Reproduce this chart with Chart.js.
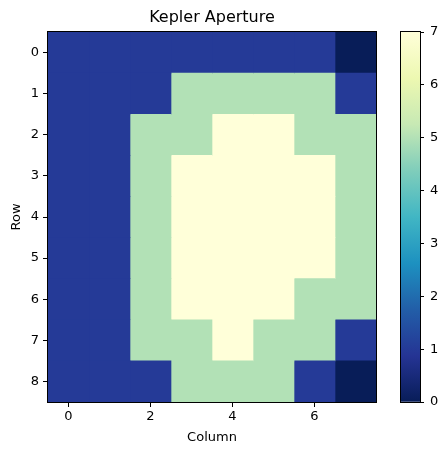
<!DOCTYPE html>
<html>
<head>
<meta charset="utf-8">
<script src="https://cdn.jsdelivr.net/npm/chart.js@4.4.1/dist/chart.umd.min.js"></script>
<style>
  html, body { margin: 0; padding: 0; background: #fff; }
  .wrap { position: relative; width: 448px; height: 455px; overflow: hidden; }
  #heat { position: absolute; left: 0; top: 0; }
  #cbar { position: absolute; left: 390px; top: 0; }
</style>
</head>
<body>
<div class="wrap">
  <canvas id="heat" width="424" height="455"></canvas>
  <canvas id="cbar" width="58" height="455"></canvas>
</div>
<script>
// pixel values of the aperture, one row per list
const rowLabels = ['0', '1', '2', '3', '4', '5', '6', '7', '8'];
const columns = [0, 1, 2, 3, 4, 5, 6, 7];
const apertureRows = [
  [1, 1, 1, 1, 1, 1, 1, 0],
  [1, 1, 1, 5, 5, 5, 5, 1],
  [1, 1, 5, 5, 7, 7, 5, 5],
  [1, 1, 5, 7, 7, 7, 7, 5],
  [1, 1, 5, 7, 7, 7, 7, 5],
  [1, 1, 5, 7, 7, 7, 7, 5],
  [1, 1, 5, 7, 7, 7, 5, 5],
  [1, 1, 5, 5, 7, 5, 5, 1],
  [1, 1, 1, 5, 5, 5, 1, 0]
];
const columnTicks = [0, 2, 4, 6];
const colorbarTicks = [0, 1, 2, 3, 4, 5, 6, 7];
const vmin = 0, vmax = 7;

// YlGnBu reversed: low = dark navy, high = pale yellow
const cmap = ['#081d58', '#253494', '#225ea8', '#1d91c0', '#41b6c4', '#7fcdbb', '#c7e9b4', '#edf8b1', '#ffffd9'];

function hexToRgb(h) {
  return [parseInt(h.slice(1, 3), 16), parseInt(h.slice(3, 5), 16), parseInt(h.slice(5, 7), 16)];
}
function colorFor(v) {
  const t = Math.min(1, Math.max(0, (v - vmin) / (vmax - vmin))) * (cmap.length - 1);
  const i = Math.min(cmap.length - 2, Math.floor(t));
  const f = t - i;
  const a = hexToRgb(cmap[i]), b = hexToRgb(cmap[i + 1]);
  const c = a.map((x, k) => Math.round(x + (b[k] - x) * f));
  return `rgb(${c[0]},${c[1]},${c[2]})`;
}

Chart.defaults.font.family = "'DejaVu Sans', sans-serif";
Chart.defaults.font.size = 13;
Chart.defaults.color = '#000';

const framePlugin = {
  id: 'frame',
  afterDraw(chart) {
    const a = chart.chartArea, ctx = chart.ctx;
    ctx.save();
    ctx.strokeStyle = '#000';
    ctx.lineWidth = 1;
    ctx.strokeRect(Math.round(a.left) - 0.5, Math.round(a.top) - 0.5,
      Math.round(a.right - a.left) + 1, Math.round(a.bottom - a.top) + 1);
    ctx.restore();
  }
};

const tickGrid = { display: true, drawOnChartArea: false, color: '#000', tickLength: 5, tickWidth: 1, offset: false };

const datasets = columns.map((c, j) => ({
  data: rowLabels.map(r => ({ x: [c - 0.5, c + 0.5], y: r })),
  backgroundColor: apertureRows.map(row => colorFor(row[j])),
  grouped: false,
  barPercentage: 1,
  categoryPercentage: 1,
  borderWidth: 0,
  borderSkipped: false
}));

new Chart(document.getElementById('heat'), {
  type: 'bar',
  data: { labels: rowLabels, datasets },
  options: {
    indexAxis: 'y',
    responsive: false,
    animation: false,
    devicePixelRatio: 1,
    layout: { padding: 0 },
    plugins: {
      legend: { display: false },
      tooltip: { enabled: false },
      title: {
        display: true,
        text: 'Kepler Aperture',
        font: { size: 16, weight: 'normal' },
        color: '#000',
        padding: { top: 8, bottom: 4.8 }
      }
    },
    scales: {
      x: {
        type: 'linear',
        position: 'bottom',
        min: vmin - 0.5 + 0,
        max: columns.length - 0.5,
        afterBuildTicks: s => { s.ticks = columnTicks.map(v => ({ value: v })); },
        afterFit: s => { s.height = 53; },
        grid: tickGrid,
        border: { display: true, color: '#000' },
        ticks: { padding: 2, color: '#000', maxRotation: 0 },
        title: { display: true, text: 'Column', color: '#000', padding: { top: 0, bottom: 10 } }
      },
      y: {
        type: 'category',
        position: 'left',
        afterFit: s => { s.width = 48; },
        grid: tickGrid,
        border: { display: true, color: '#000' },
        ticks: { padding: 4, color: '#000' },
        title: { display: true, text: 'Row', color: '#000', padding: { top: 9, bottom: 0 } }
      },
      y2: {
        type: 'linear',
        position: 'right',
        afterFit: s => { s.width = 48; },
        grid: { display: false },
        border: { display: false },
        ticks: { display: false }
      }
    }
  },
  plugins: [framePlugin]
});

new Chart(document.getElementById('cbar'), {
  type: 'bar',
  data: {
    labels: ['scale'],
    datasets: [{
      data: [[vmin, vmax]],
      backgroundColor: ctx => {
        const chart = ctx.chart;
        if (!chart.chartArea) return cmap[0];
        const y = chart.scales.y;
        const g = chart.ctx.createLinearGradient(0, y.getPixelForValue(vmin), 0, y.getPixelForValue(vmax));
        cmap.forEach((c, i) => g.addColorStop(i / (cmap.length - 1), c));
        return g;
      },
      barPercentage: 1,
      categoryPercentage: 1,
      borderWidth: 0
    }]
  },
  options: {
    responsive: false,
    animation: false,
    devicePixelRatio: 1,
    layout: { padding: { left: 11, top: 32, bottom: 53, right: 0 } },
    plugins: { legend: { display: false }, tooltip: { enabled: false } },
    scales: {
      x: { display: false },
      y: {
        type: 'linear',
        position: 'right',
        min: vmin,
        max: vmax,
        afterBuildTicks: s => { s.ticks = colorbarTicks.map(v => ({ value: v })); },
        afterFit: s => { s.width = 28; },
        grid: { display: true, drawOnChartArea: false, color: '#000', tickLength: 4, tickWidth: 1 },
        border: { display: true, color: '#000' },
        ticks: { padding: 6, color: '#000' }
      }
    }
  },
  plugins: [framePlugin]
});
</script>
</body>
</html>
